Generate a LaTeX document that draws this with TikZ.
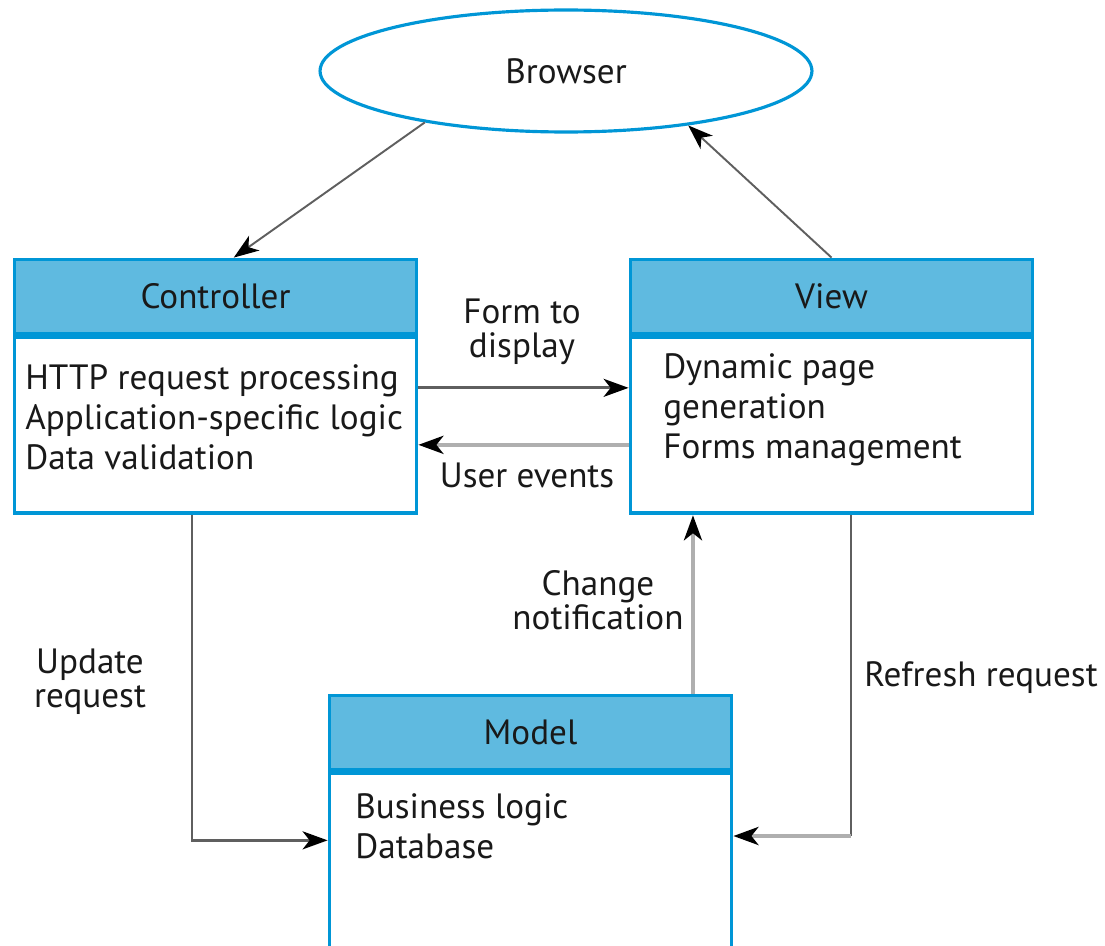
\documentclass[tikz,border=0pt]{standalone}
\usepackage{fontspec}
\setmainfont{PT Sans}
\usetikzlibrary{positioning,shapes.geometric,arrows.meta,calc}
\definecolor{headblue}{RGB}{95,186,224}
\definecolor{lineblue}{RGB}{0,150,214}
\definecolor{darkline}{RGB}{95,95,95}
\definecolor{lightline}{RGB}{175,175,175}
\definecolor{ink}{RGB}{25,25,25}
\begin{document}
\begin{tikzpicture}[x=0.02cm,y=-0.02cm,
  every node/.style={font=\fontsize{20}{22.8}\selectfont, text=ink},
  head/.style={draw=lineblue, line width=2.2pt, fill=headblue, minimum width=8.04cm, minimum height=1.48cm, inner sep=0pt},
  body/.style={draw=lineblue, line width=2.2pt, fill=white, minimum width=8.04cm, minimum height=3.52cm, inner sep=0pt},
  bodytext/.style={align=left, inner sep=0pt, anchor=west},
  lbl/.style={align=center, inner sep=0pt, font=\fontsize{20}{19.4}\selectfont},
  tip/.style={-{Stealth[length=0.5cm,width=0.36cm,inset=0.14cm,color=black]}},
  dk/.style={draw=darkline, line width=1.6pt},
  lt/.style={draw=lightline, line width=2.3pt}]

\useasboundingbox (0,0) rectangle (1105,946);

\node[ellipse, draw=lineblue, line width=1.8pt, minimum width=9.84cm, minimum height=2.44cm] (browser) at (566,71) {Browser};

\node[head] (ctrlhead) at (215.5,296.5) {Controller};
\node[body, below=0pt of ctrlhead] (ctrl) {};
\node[bodytext] (ctrltext) at (25,417) {HTTP request processing\\Application-specific logic\\Data validation};

\node[head] (viewhead) at (831.5,296.5) {View};
\node[body, below=0pt of viewhead] (view) {};
\node[bodytext] (viewtext) at (663,410) {Dynamic page\\generation\\Forms management};

\node[head] (modelhead) at (530.5,732.5) {Model};
\node[body, below=0pt of modelhead] (model) {};
\node[bodytext] (modeltext) at (355,826) {Business logic\\Database};

\draw[dk, line width=1.1pt, tip] (browser.200) -- ($(ctrlhead.north)!0.09!(ctrlhead.north east)$);
\draw[dk, line width=1.1pt, tip] (viewhead.north) -- (browser.336);

\draw[dk, tip] ([yshift=0.75cm]ctrl.east) -- ([yshift=0.75cm]view.west);
\draw[lt, tip] ([yshift=-0.39cm]view.west) -- ([yshift=-0.39cm]ctrl.east);
\draw[dk, tip] ([xshift=-0.47cm]ctrl.south) |- ([yshift=0.42cm]model.west);
\draw[lt, tip] ([xshift=3.25cm]modelhead.north) -- ([xshift=3.25cm]modelhead.north |- view.south);
\coordinate (rfcorner) at ([xshift=0.39cm]view.south |- 0,836);
\draw[dk] ([xshift=0.39cm]view.south) -- (rfcorner);
\draw[lt, tip] (rfcorner) -- (rfcorner -| model.east);

\node[lbl] (formlbl) at (522,332) {Form to\\display};
\node[lbl] (userlbl) at (527,475) {User events};
\node[lbl] (updlbl) at (90,682) {Update\\request};
\node[lbl] (chglbl) at (598,600) {Change\\notification};
\node[lbl] (reflbl) at (981,678) {Refresh request};

\end{tikzpicture}
\end{document}
